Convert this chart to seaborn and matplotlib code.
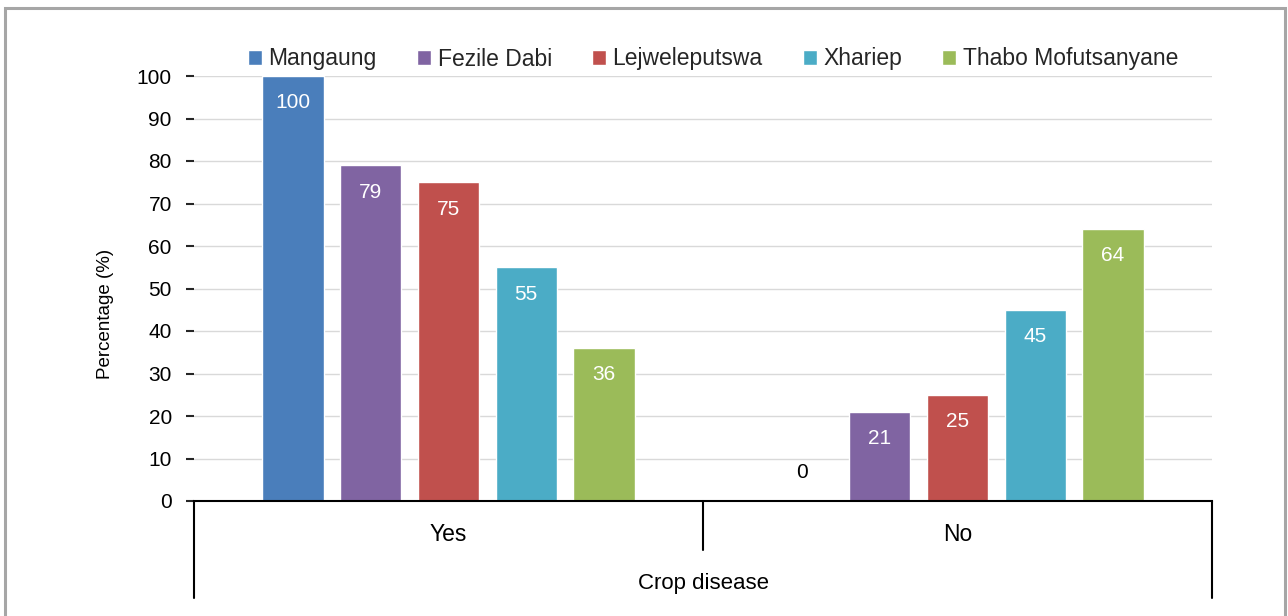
import pandas as pd
import seaborn as sns
import matplotlib.pyplot as plt
from matplotlib.patches import Rectangle

# data
districts = ['Mangaung', 'Fezile Dabi', 'Lejweleputswa', 'Xhariep', 'Thabo Mofutsanyane']
answers = ['Yes', 'No']
yes_pct = [100, 79, 75, 55, 36]
no_pct = [0, 21, 25, 45, 64]
colors = ['#4a7ebb', '#8064a2', '#c0504d', '#4bacc6', '#9bbb59']
yticks = list(range(0, 101, 10))

df = pd.DataFrame({
    'answer': ['Yes'] * len(districts) + ['No'] * len(districts),
    'district': districts * 2,
    'pct': yes_pct + no_pct,
})

sns.set_theme(style='white')
plt.rcParams['font.family'] = ['Liberation Sans', 'DejaVu Sans']  # arial-like
fs = 15

W, H = 1288, 616
fig = plt.figure(figsize=(W / 100, H / 100), dpi=100)
ax = fig.add_axes([194 / W, 1 - 501 / H, (1212 - 194) / W, (501 - 76) / H])

sns.barplot(data=df, x='answer', y='pct', hue='district', order=answers,
            hue_order=districts, palette=colors, saturation=1, width=0.764,
            gap=0.21, errorbar=None, ax=ax)

# value labels, white inside the bar top, black for the zero one
for cont in ax.containers:
    for bar in cont:
        h = bar.get_height()
        x = bar.get_x() + bar.get_width() / 2
        if h > 0:
            ax.text(x, h - 6.3, '%d' % h, ha='center', va='center', color='white', fontsize=fs)
        else:
            ax.text(x, 6.6, '0', ha='center', va='center', color='black', fontsize=fs)

ax.set_xlim(-0.5, 1.5)
ax.set_ylim(0, 100)
ax.set_yticks(yticks)
ax.yaxis.grid(True, color='#d9d9d9', lw=1)
ax.set_axisbelow(True)
for s in ['left', 'top', 'right']:
    ax.spines[s].set_visible(False)
ax.spines['bottom'].set_color('black')
ax.spines['bottom'].set_linewidth(1.5)
ax.tick_params(axis='y', left=True, length=5.5, width=1.5, color='#262626', pad=10.5, labelsize=fs, labelcolor='black')
ax.tick_params(axis='x', bottom=False, length=0, pad=16, labelsize=16.5, labelcolor='black')

ax.set_xlabel('Crop disease', fontsize=16, color='black', labelpad=19)
ax.set_ylabel('Percentage (%)', fontsize=13.5, color='black')
ax.yaxis.set_label_coords(-0.087, 0.44)
ax.yaxis.label.set_verticalalignment('center')

# excel style category separators under the axis
tr = ax.get_xaxis_transform()
for xb, depth in [(-0.5, 97), (0.5, 49), (1.5, 97)]:
    ax.plot([xb, xb], [0, -depth / 425], transform=tr, color='black', lw=1.5, clip_on=False)

handles, labels = ax.get_legend_handles_labels()
ax.legend(handles, labels, loc='center left', bbox_to_anchor=(248 / W, 1 - 59 / H),
          bbox_transform=fig.transFigure, ncol=5, frameon=False, fontsize=16.5,
          handlelength=0.6, handleheight=0.6, handletextpad=0.3,
          columnspacing=1.75, borderpad=0, borderaxespad=0)

# grey frame round the figure
fig.patches.append(Rectangle((5 / W, -0.1), 1280 / W, 1.1 - 8 / H, transform=fig.transFigure,
                             fill=False, edgecolor='#a6a6a6', lw=2.2))

fig.savefig('out.png', dpi=100)
